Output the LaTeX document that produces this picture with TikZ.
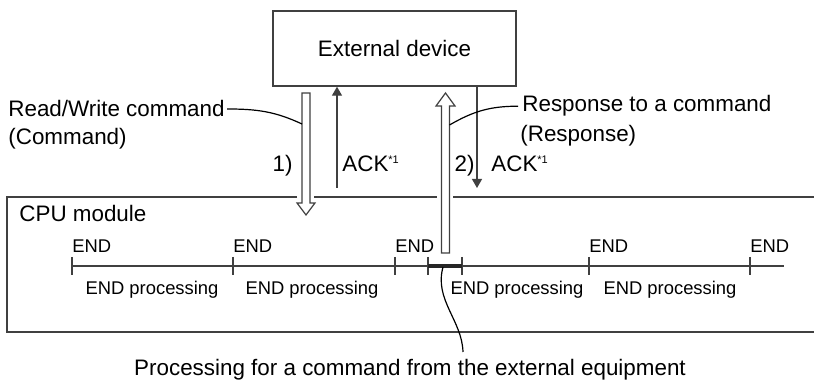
\documentclass[tikz,border=0pt]{standalone}
\usepackage{fontspec}
\setmainfont{Liberation Sans}
\usetikzlibrary{arrows.meta}
\definecolor{lineGray}{RGB}{64,64,64}
\tikzstyle{mainText}=[inner sep = 0pt, font = \fontsize{11.2}{13}\selectfont]
\tikzstyle{smallText}=[inner sep = 0pt, font = \fontsize{9.2}{11}\selectfont]
\newcommand{\ackMark}{ACK\raisebox{4pt}{\fontsize{5.5}{6}\selectfont *1}}

\begin{document}
\begin{tikzpicture}[x = 0.5pt, y = -0.5pt]
\tikzstyle{boxLine}=[draw = lineGray, line width = 0.9pt]
\tikzstyle{hollowArrow}=[draw = lineGray, line width = 0.6pt, fill = white, line join = miter]
\tikzstyle{ackArrow}=[draw = lineGray, line width = 0.6pt, -{Triangle[length = 4.5pt, width = 5pt]}]
\tikzstyle{leaderLine}=[draw = black, line width = 0.6pt]
\tikzstyle{tickLine}=[draw = lineGray, line width = 0.6pt]
\useasboundingbox (0,0) rectangle (814,383);
\node[mainText, draw = lineGray, line width = 0.7pt, minimum width = 121.5pt, minimum height = 37.5pt] (extDevice) at (394.5,48.5) {External device};
\draw[boxLine] (297,197) -- (7,197) -- (7,332) -- (814,332);
\draw[boxLine] (314,197) -- (437,197);
\draw[boxLine] (453,197) -- (814,197);
\node[mainText, anchor = base west] (cpuName) at (19,222) {CPU module};
\coordinate (tlStart) at (72,266);
\coordinate (tlEnd) at (784,266);
\coordinate (cmdStart) at (428,266);
\coordinate (cmdStop) at (462,266);
\draw[tickLine] (tlStart) -- (tlEnd);
\draw[tickLine] (72,257) -- (72,275);
\draw[tickLine] (233,257) -- (233,275);
\draw[tickLine] (395,257) -- (395,275);
\draw[tickLine] (428,257) -- (428,275);
\draw[tickLine] (462,257) -- (462,275);
\draw[tickLine] (589,257) -- (589,275);
\draw[tickLine] (750,257) -- (750,275);
\draw[draw = black!85, line width = 2pt] (cmdStart) -- (cmdStop);
\node[smallText, anchor = base west] (endA) at (72,253) {END};
\node[smallText, anchor = base west] (endB) at (233,253) {END};
\node[smallText, anchor = base west] (endC) at (395,253) {END};
\node[smallText, anchor = base west] (endD) at (589,253) {END};
\node[smallText, anchor = base west] (endE) at (750,253) {END};
\node[smallText, anchor = base] (procA) at (152,295) {END processing};
\node[smallText, anchor = base] (procB) at (312,295) {END processing};
\node[smallText, anchor = base] (procC) at (517,295) {END processing};
\node[smallText, anchor = base] (procD) at (670,295) {END processing};
\draw[hollowArrow] (302,93) -- (310,93) -- (310,203) -- (315,203) -- (306,215) -- (297,203) -- (302,203) -- cycle;
\draw[hollowArrow] (441.5,253) -- (449.5,253) -- (449.5,106) -- (455,106) -- (445.5,93) -- (436,106) -- (441.5,106) -- cycle;
\coordinate (ackOneFoot) at (337,188);
\coordinate (ackTwoTip) at (477,188);
\draw[ackArrow] (ackOneFoot) -- (extDevice.south -| ackOneFoot);
\draw[ackArrow] (extDevice.south -| ackTwoTip) -- (ackTwoTip);
\node[mainText, anchor = base east] (stepOne) at (293,172) {1)};
\node[mainText, anchor = base west] (ackOne) at (342,172) {\ackMark};
\node[mainText, anchor = base east] (stepTwo) at (475,172) {2)};
\node[mainText, anchor = base west] (ackTwo) at (491,172) {\ackMark};
\node[mainText, anchor = base west] (rwCmd) at (8,117) {Read/Write command};
\node[mainText, anchor = base west] (cmdName) at (8,145) {(Command)};
\node[mainText, anchor = base west] (respTo) at (522,112) {Response to a command};
\node[mainText, anchor = base west] (respName) at (520,142) {(Response)};
\node[mainText, anchor = base] (procText) at (410,376) {Processing for a command from the external equipment};
\coordinate (cmdHit) at (302,124);
\coordinate (respHit) at (449.5,125);
\coordinate (procEnd) at (463,352);
\coordinate (procHit) at (443,267);
\draw[leaderLine] ([xshift = 1pt]rwCmd.east) to[out = 0, in = 155] (cmdHit);
\draw[leaderLine] ([xshift = -2pt]respTo.west) to[out = 180, in = 30] (respHit);
\draw[leaderLine] (procHit) .. controls (434,300) and (462,320) .. (procEnd);
\end{tikzpicture}
\end{document}
